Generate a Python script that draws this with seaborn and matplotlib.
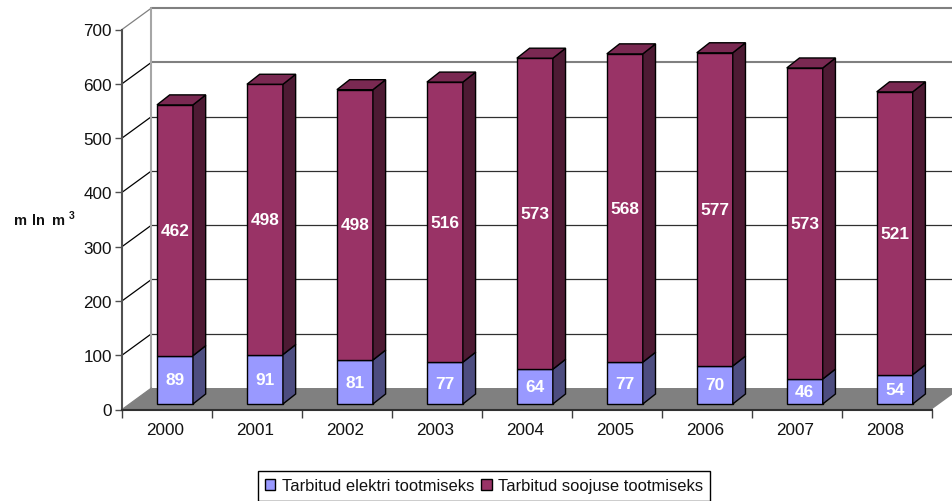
import numpy as np
import pandas as pd
import matplotlib
matplotlib.use("Agg")
import matplotlib.pyplot as plt
import matplotlib.transforms as mtransforms
import seaborn as sns

years = ["2000", "2001", "2002", "2003", "2004", "2005", "2006", "2007", "2008"]
elekter = [89, 91, 81, 77, 64, 77, 70, 46, 54]
soojus = [462, 498, 498, 516, 573, 568, 577, 573, 521]
y_ticks = [0, 100, 200, 300, 400, 500, 600, 700]
names = ["Tarbitud elektri tootmiseks", "Tarbitud soojuse tootmiseks"]

df = pd.DataFrame({"year": years, "elekter": elekter, "soojus": soojus})

sns.set_theme(style="white")
plt.rcParams["font.family"] = ["Liberation Sans", "DejaVu Sans"]

W, H = 953, 502
fig = plt.figure(figsize=(W / 100, H / 100), dpi=100)
# axes = the front plane of the fake 3D box
ax = fig.add_axes([122 / W, (H - 410.5) / H, (931.7 - 122) / W, 380 / H])

sns.barplot(data=df, x="year", y="elekter", color="#9999FF", saturation=1, width=0.4,
            edgecolor="black", linewidth=1, label=names[0], ax=ax, zorder=3)
sns.barplot(data=df, x="year", y="soojus", color="#993366", saturation=1, width=0.4,
            bottom=df["elekter"].values, edgecolor="black", linewidth=1,
            label=names[1], ax=ax, zorder=3)
bars = list(ax.patches)
ax.set_xlim(-0.5, 8.5)
ax.set_ylim(0, 700)

# pixel sizes of the depth, turned into data units
px_x = 1 / ((931.7 - 122) / 9)
px_y = 700 / 380
WALL = (29.5, 21.5)
BAR_FRONT = (8.0, 5.5)
BAR_SIDE = (12.7, 10)

# back wall and floor
x0, x1 = -0.5, 8.5
wx, wy = WALL[0] * px_x, WALL[1] * px_y
ax.fill([x0, x0 + wx, x1 + wx, x1], [0, wy, wy, 0], color="#808080", lw=0, zorder=1, clip_on=False)
for v in y_ticks[1:]:
    col, lw = ("#808080", 1.5) if v >= 600 else ("#303030", 0.9)
    ax.plot([x0 + wx, x1 + wx], [v + wy, v + wy], color=col, lw=lw, zorder=1, clip_on=False)
    ax.plot([x0, x0 + wx], [v, v + wy], color=col if v == 700 else "black", lw=0.9, zorder=1, clip_on=False)
ax.plot([x0 + wx, x0 + wx], [wy, 700 + wy], color="#a6a6a6", lw=1.5, zorder=1, clip_on=False)
ax.plot([x0, x0 + wx], [0, wy], color="#808080", lw=0.9, zorder=1, clip_on=False)

# move the bars back from the front plane, add sides, tops and value labels
shift = mtransforms.ScaledTranslation(BAR_FRONT[0] / 100, BAR_FRONT[1] / 100, fig.dpi_scale_trans)
dx, dy = BAR_SIDE[0] * px_x, BAR_SIDE[1] * px_y
sx, sy = BAR_FRONT[0] * px_x, BAR_FRONT[1] * px_y
n = len(years)
for i, p in enumerate(bars):
    p.set_transform(ax.transData + shift)
    p.set_clip_on(False)
    x, y, w, h = p.get_x() + sx, p.get_y() + sy, p.get_width(), p.get_height()
    is_top = i >= n
    side = "#4D1A33" if is_top else "#4D4D80"
    ax.fill([x + w, x + w + dx, x + w + dx, x + w], [y, y + dy, y + h + dy, y + h],
            facecolor=side, edgecolor="black", lw=1, zorder=3, clip_on=False)
    if is_top:
        ax.fill([x, x + dx, x + w + dx, x + w], [y + h, y + h + dy, y + h + dy, y + h],
                facecolor="#7A2952", edgecolor="black", lw=1, zorder=3, clip_on=False)
    ax.text(x + w / 2, y + h / 2, str(int(round(h))), color="white", fontweight="bold",
            fontsize=12.4, ha="center", va="center", zorder=5)

# axes cosmetics
sns.despine(ax=ax, top=True, right=True)
for s in ("left", "bottom"):
    ax.spines[s].set_color("#505050")
    ax.spines[s].set_linewidth(1.5)
ax.spines["bottom"].set_color("#303030")
ax.set_xlabel("")
ax.set_ylabel("")
ax.set_yticks(y_ticks)
ax.tick_params(axis="y", left=True, length=5, width=1, color="#505050", pad=2.2, labelsize=12.3, labelcolor="#111111")
ax.set_xticks(np.arange(-0.5, 9), labels=[])
ax.set_xticks(np.arange(9), labels=years, minor=True)
ax.tick_params(axis="x", which="major", bottom=True, length=5.5, width=1, color="#404040")
ax.tick_params(axis="x", which="minor", bottom=False, length=0, pad=9, labelsize=12.3, labelcolor="#111111")
nudge = mtransforms.ScaledTranslation(-1.5 / 100, 0, fig.dpi_scale_trans)
for lab in ax.get_xticklabels(minor=True):
    lab.set_transform(lab.get_transform() + nudge)
ax.patch.set_alpha(0)

# unit label, pieces spaced like the original
for px, piece in [(14, "m"), (32.3, "ln"), (52.3, "m")]:
    fig.text(px / W, (H - 221) / H, piece, fontsize=10.5, fontweight="bold", va="center", color="#111111")
fig.text(69 / W, (H - 216.5) / H, "3", fontsize=7.5, fontweight="bold", va="center", color="#111111")

leg = ax.legend(loc="center", bbox_to_anchor=(484 / W, (H - 487) / H), bbox_transform=fig.transFigure,
                ncol=2, frameon=True, fancybox=False, edgecolor="black", framealpha=1,
                fontsize=11.9, handlelength=0.62, handleheight=0.62, handletextpad=0.38,
                columnspacing=0.45, borderpad=0.45, borderaxespad=0)
leg.get_frame().set_linewidth(1)
for t in leg.get_texts():
    t.set_color("#111111")

fig.savefig("out.png", dpi=100)
